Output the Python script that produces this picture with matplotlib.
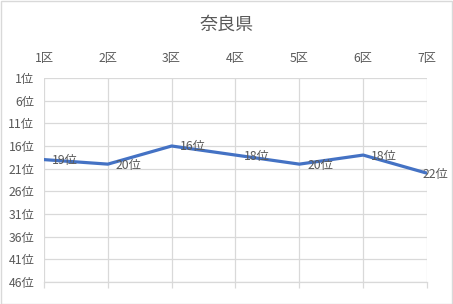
import matplotlib
matplotlib.use("Agg")
import matplotlib.pyplot as plt

plt.rcParams['font.family'] = ['Noto Sans CJK JP', 'DejaVu Sans']

# data
districts = ["1区", "2区", "3区", "4区", "5区", "6区", "7区"]
ranks = [19, 20, 16, 18, 20, 18, 22]
title = "奈良県"
y_ticks = list(range(1, 47, 5))

text_col = "#595959"
grid_col = "#D9D9D9"

fig = plt.figure(figsize=(4.53, 3.04), dpi=100)
ax = fig.add_axes([44 / 453, 1 - 282 / 304, (427 - 44) / 453, (282 - 78) / 304])

x = list(range(len(districts)))
ax.plot(x, ranks, color="#4472C4", linewidth=2.3, solid_capstyle="round", zorder=3)

# data labels
for i, r in enumerate(ranks):
    dx = 8 if i < len(ranks) - 1 else -4
    ax.annotate(f"{r}位", (i, r), xytext=(dx, -1), textcoords="offset pixels",
                ha="left", va="center", fontsize=8.8, color=text_col, zorder=4)

ax.set_xlim(0, len(districts) - 1)
ax.set_ylim(46, 1)
ax.set_yticks(y_ticks)
ax.set_yticklabels([f"{v}位" for v in y_ticks])
ax.set_xticks(x)
ax.set_xticklabels([])
ax.grid(True, color=grid_col, linewidth=0.9)
ax.set_axisbelow(True)

for s in ["top", "left", "right"]:
    ax.spines[s].set_visible(False)
ax.spines["bottom"].set_color(grid_col)
ax.spines["bottom"].set_linewidth(0.9)

ax.tick_params(axis="x", bottom=True, length=4, color=grid_col, width=0.9)
ax.tick_params(axis="y", length=0, labelsize=8.8, labelcolor=text_col, pad=7)

top = ax.secondary_xaxis("top")
top.set_xticks(x)
top.set_xticklabels(districts)
top.tick_params(length=0, labelsize=8.8, labelcolor=text_col, pad=9)
top.spines["top"].set_visible(False)

fig.text(0.5, 1 - 25 / 304, title, ha="center", va="center", fontsize=13, color=text_col)

# chart border
fig.patches.append(plt.Rectangle((0.5 / 453, 0.5 / 304), 1 - 1.5 / 453, 1 - 1.5 / 304,
                                 transform=fig.transFigure, fill=False,
                                 edgecolor=grid_col, linewidth=1))

fig.savefig("out.png", dpi=100)
